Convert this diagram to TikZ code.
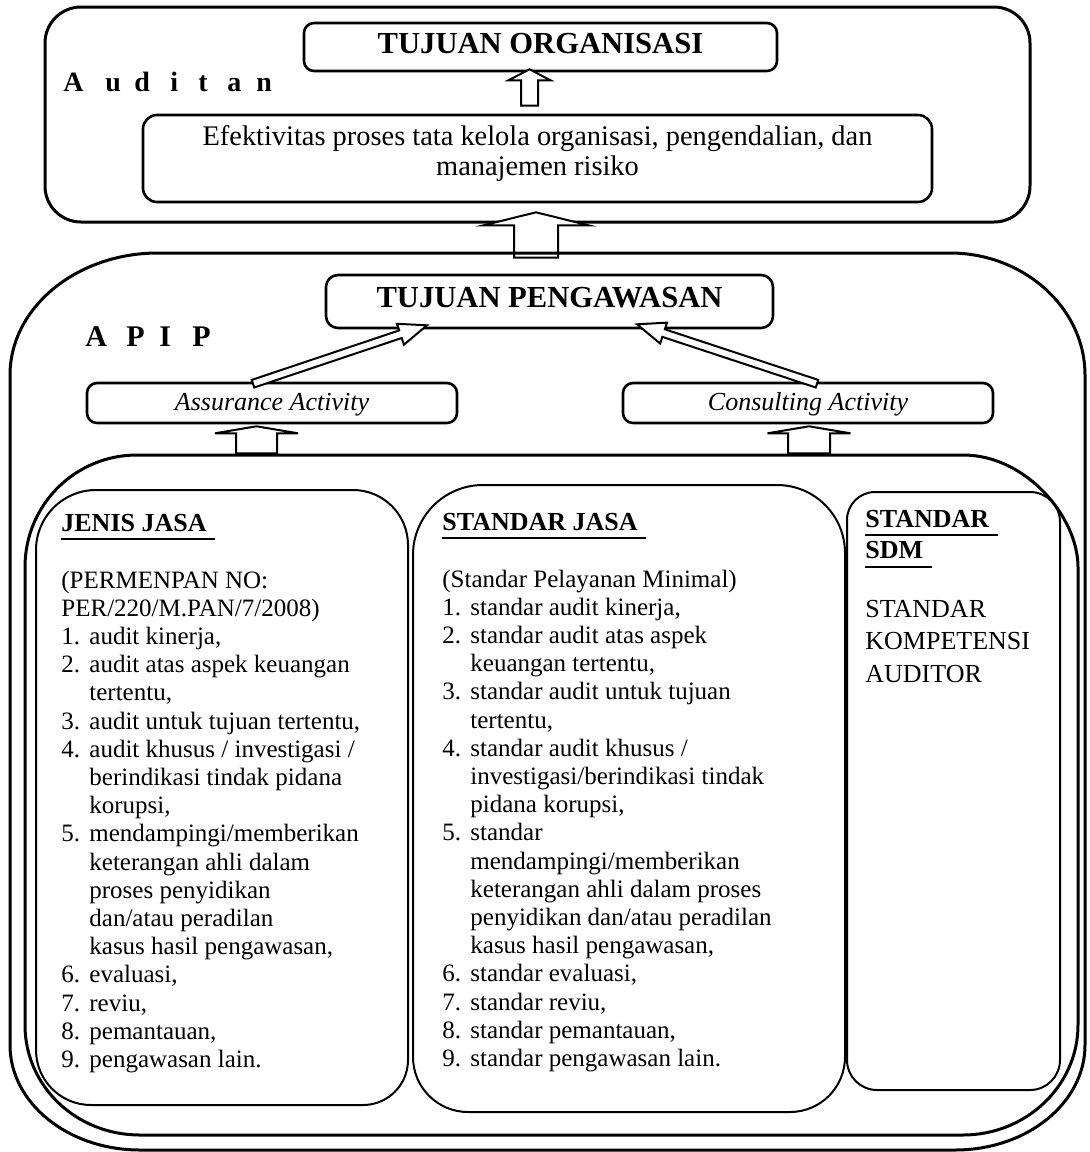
\documentclass[tikz,border=0pt]{standalone}
\usepackage{fontspec}
\setmainfont{Liberation Serif}
\usetikzlibrary{calc}
\newcommand\rrpath[9]{%
 \draw[#1] ({#2},{#3+#6}) .. controls ({#2},{#3+0.448*#6}) and ({#2+0.448*#6},{#3}) .. ({#2+#6},{#3})
 -- ({#4-#7},{#3}) .. controls ({#4-0.448*#7},{#3}) and ({#4},{#3+0.448*#7}) .. ({#4},{#3+#7})
 -- ({#4},{#5-#8}) .. controls ({#4},{#5-0.448*#8}) and ({#4-0.448*#8},{#5}) .. ({#4-#8},{#5})
 -- ({#2+#9},{#5}) .. controls ({#2+0.448*#9},{#5}) and ({#2},{#5-0.448*#9}) .. ({#2},{#5-#9})
 -- cycle;}
\newcommand\blkarrow[6]{%
 \coordinate (bab) at ($(#3)!#6!(#2)$);
 \draw[#1] ($(#2)!#4!90:(#3)$) -- ($(bab)!#4!90:(#3)$) -- ($(bab)!#5!90:(#3)$) -- (#3)
   -- ($(bab)!#5!-90:(#3)$) -- ($(bab)!#4!-90:(#3)$) -- ($(#2)!#4!-90:(#3)$) -- cycle;}
\newcommand\myBody{\fontsize{12.5}{14.1}\selectfont}
\newcommand\myTitle{\fontsize{15.3}{18}\selectfont\bfseries}
\newcommand\myHead{\fontsize{13}{15.5}\selectfont\bfseries}
\newcommand\myNum[1]{\makebox[14pt][l]{#1}}
\tikzset{
  outerline/.style={line width=1.5pt, line join=round},
  innerbox/.style={line width=1pt},
  rbox/.style={draw, line width=1.3pt, inner sep=0pt, align=center},
  blk/.style={draw, line width=1pt, fill=white, line join=miter},
  txt/.style={anchor=base west, inner sep=0pt},
  uline/.style={line width=1.1pt},
}
\begin{document}
\begin{tikzpicture}[x=0.5pt,y=-0.5pt]
\useasboundingbox (0,0) rectangle (1089,1152);
\fill[white] (0,0) rectangle (1089,1152);

% ---------- Auditan ----------
\rrpath{outerline}{45}{7}{1030}{222}{36}{36}{36}{36}
\node[rbox, rounded corners=5pt, minimum width=236.5pt, minimum height=24pt,
      font=\myTitle, text height=10pt, text depth=4pt] (tujorg) at (540.5,47) {TUJUAN ORGANISASI};
\node[txt, font=\fontsize{14}{16}\selectfont\bfseries] (audlab) at (63,91)
  {\makebox[21pt][l]{A}\makebox[14.5pt][l]{u}\makebox[18pt][l]{d}\makebox[14pt][l]{i}\makebox[14.5pt][l]{t}\makebox[14.5pt][l]{a}n};
\node[rbox, rounded corners=7pt, minimum width=394.5pt, minimum height=43.5pt] (efek) at (537.5,158.5) {};
\node[txt, anchor=base, font=\fontsize{14.2}{15}\selectfont] (efektxt) at (537.5,145)
  {\begin{tabular}[t]{@{}c@{}}Efektivitas proses tata kelola organisasi, pengendalian, dan\\ manajemen risiko\end{tabular}};

\coordinate (a1s) at ($(efek.north)+(-8,-8)$);
\coordinate (a1t) at ($(tujorg.south)+(-11,-3)$);
\blkarrow{blk}{a1s}{a1t}{4.25pt}{10.5pt}{5.5pt}

% ---------- APIP ----------
\node[rbox, rounded corners=6pt, minimum width=223.5pt, minimum height=26.5pt,
      font=\myTitle, text height=10pt, text depth=4.5pt] (tujpeng) at (549.5,301.5) {TUJUAN PENGAWASAN};
\coordinate (a2s) at ($(tujpeng.north)+(-13.5,-16)$);
\coordinate (a2t) at ($(efek.south)+(-1.5,9)$);
\blkarrow{blk}{a2s}{a2t}{11pt}{26.25pt}{6.5pt}

\draw[outerline] (10,375) .. controls (10,308) and (76,253) .. (158,253)
  -- (950,253) .. controls (1024,253) and (1085,308) .. (1085,375)
  -- (1085,1045) .. controls (1085,1103) and (1027,1150) .. (955,1150)
  -- (140,1150) .. controls (68,1150) and (10,1103) .. (10,1045) -- cycle;

\node[txt, font=\fontsize{15}{18}\selectfont\bfseries] (apiplab) at (85,346)
  {\makebox[20.5pt][l]{A}\makebox[16.5pt][l]{P}\makebox[16.5pt][l]{I}P};

\node[rbox, rounded corners=5pt, minimum width=185pt, minimum height=20pt,
      font=\fontsize{13}{15}\selectfont\itshape, text height=9pt, text depth=2pt] (assur) at (272,403) {Assurance Activity};
\node[rbox, rounded corners=5pt, minimum width=185pt, minimum height=20pt,
      font=\fontsize{13}{15}\selectfont\itshape, text height=9pt, text depth=2pt] (consult) at (808,403) {Consulting Activity};

\coordinate (d1a) at ($(assur.north)+(-19,2)$);
\coordinate (d1b) at ($(tujpeng.south)+(-122.5,-4)$);
\coordinate (d2a) at ($(consult.north)+(9,2)$);
\coordinate (d2b) at ($(tujpeng.south)+(87.5,-5)$);
\blkarrow{blk}{d1a}{d1b}{2pt}{5.5pt}{14pt}
\blkarrow{blk}{d2a}{d2b}{2pt}{5.5pt}{14pt}

\coordinate (a3s) at ($(assur.south)+(-15.5,29)$);
\coordinate (a3t) at ($(assur.south)+(-15.5,2)$);
\blkarrow{blk}{a3s}{a3t}{10.25pt}{20.75pt}{3.5pt}
\coordinate (a4s) at ($(consult.south)+(1,29)$);
\coordinate (a4t) at ($(consult.south)+(1,2)$);
\blkarrow{blk}{a4s}{a4t}{10.5pt}{20.75pt}{3.5pt}

% ---------- container ----------
\draw[outerline] (25,567) .. controls (25,505) and (75,455) .. (137,455)
  -- (963,455) .. controls (1026,455) and (1078,517) .. (1078,567)
  -- (1078,1025) .. controls (1078,1086) and (1026,1135) .. (963,1135)
  -- (140,1135) .. controls (76,1135) and (25,1086) .. (25,1025) -- cycle;

\rrpath{innerbox}{36}{490}{408}{1105}{60}{55}{45}{55}
\rrpath{innerbox}{413}{485}{845}{1112}{70}{68}{55}{55}
\rrpath{innerbox}{847}{492}{1060}{1090}{28}{30}{30}{30}

% JENIS JASA
\node[txt, font=\myHead] (jt) at (61,531) {JENIS JASA};
\draw[uline] ($(jt.base west)+(0,8)$) -- ($(jt.base east)+(8,8)$);
\node[txt, font=\myBody] (jl) at (61,588) {\begin{tabular}[t]{@{}l@{}}
(PERMENPAN NO:\\
PER/220/M.PAN/7/2008)\\
\myNum{1.}audit kinerja,\\
\myNum{2.}audit atas aspek keuangan\\
\myNum{}tertentu,\\
\myNum{3.}audit untuk tujuan tertentu,\\
\myNum{4.}audit khusus / investigasi /\\
\myNum{}berindikasi tindak pidana\\
\myNum{}korupsi,\\
\myNum{5.}mendampingi/memberikan\\
\myNum{}keterangan ahli dalam\\
\myNum{}proses penyidikan\\
\myNum{}dan/atau peradilan\\
\myNum{}kasus hasil pengawasan,\\
\myNum{6.}evaluasi,\\
\myNum{7.}reviu,\\
\myNum{8.}pemantauan,\\
\myNum{9.}pengawasan lain.
\end{tabular}};

% STANDAR JASA
\node[txt, font=\myHead] (st) at (442,530) {STANDAR JASA};
\draw[uline] ($(st.base west)+(0,8)$) -- ($(st.base east)+(8,8)$);
\node[txt, font=\myBody] (sl) at (442,587) {\begin{tabular}[t]{@{}l@{}}
(Standar Pelayanan Minimal)\\
\myNum{1.}standar audit kinerja,\\
\myNum{2.}standar audit atas aspek\\
\myNum{}keuangan tertentu,\\
\myNum{3.}standar audit untuk tujuan\\
\myNum{}tertentu,\\
\myNum{4.}standar audit khusus /\\
\myNum{}investigasi/berindikasi tindak\\
\myNum{}pidana korupsi,\\
\myNum{5.}standar\\
\myNum{}mendampingi/memberikan\\
\myNum{}keterangan ahli dalam proses\\
\myNum{}penyidikan dan/atau peradilan\\
\myNum{}kasus hasil pengawasan,\\
\myNum{6.}standar evaluasi,\\
\myNum{7.}standar reviu,\\
\myNum{8.}standar pemantauan,\\
\myNum{9.}standar pengawasan lain.
\end{tabular}};

% STANDAR SDM
\node[txt, font=\myHead] (sd1) at (865,527) {STANDAR};
\draw[uline] ($(sd1.base west)+(0,8)$) -- ($(sd1.base east)+(8,8)$);
\node[txt, font=\myHead] (sd2) at (865,558) {SDM};
\draw[uline] ($(sd2.base west)+(0,9)$) -- ($(sd2.base east)+(8,9)$);
\node[txt, font=\fontsize{13}{16.25}\selectfont] (sdk) at (865,617) {\begin{tabular}[t]{@{}l@{}}
STANDAR\\ KOMPETENSI\\ AUDITOR\end{tabular}};
\end{tikzpicture}
\end{document}
